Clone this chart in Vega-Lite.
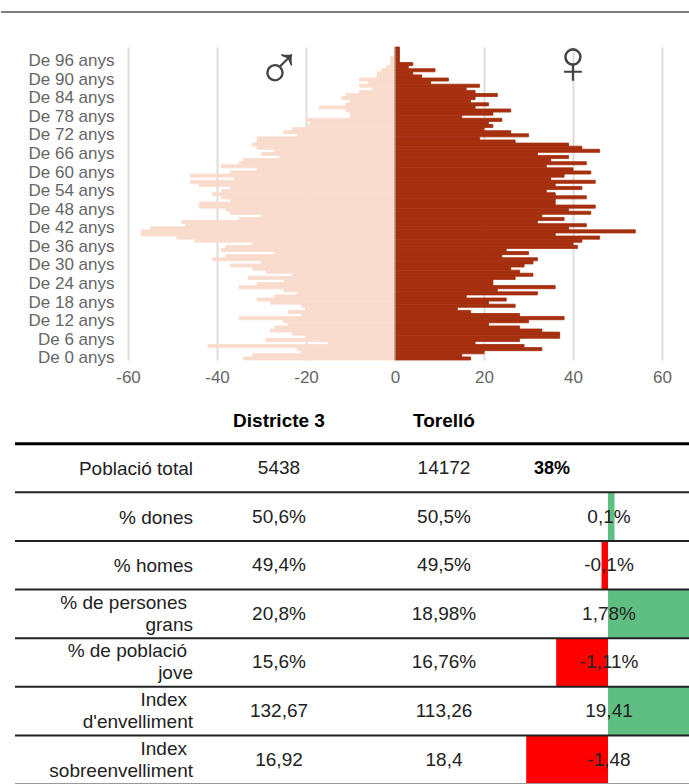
{"$schema":"https://vega.github.io/schema/vega-lite/v6.json","padding":0,"background":"white","bounds":"flush","spacing":35,"config":{"view":{"stroke":null},"font":"Liberation Sans"},"datasets":{"piramide":[{"edat":100,"homes":0,"dones":1},{"edat":99,"homes":0,"dones":1},{"edat":98,"homes":0,"dones":1},{"edat":97,"homes":-1,"dones":1},{"edat":96,"homes":-1,"dones":1},{"edat":95,"homes":-1,"dones":4},{"edat":94,"homes":-2,"dones":3},{"edat":93,"homes":-3,"dones":9},{"edat":92,"homes":-4,"dones":4},{"edat":91,"homes":-4,"dones":6},{"edat":90,"homes":-8,"dones":12},{"edat":89,"homes":-6,"dones":8},{"edat":88,"homes":-8,"dones":19},{"edat":87,"homes":-5,"dones":16},{"edat":86,"homes":-8,"dones":18},{"edat":85,"homes":-11,"dones":23},{"edat":84,"homes":-12,"dones":18},{"edat":83,"homes":-10,"dones":17},{"edat":82,"homes":-11,"dones":21},{"edat":81,"homes":-17,"dones":18},{"edat":80,"homes":-11,"dones":26},{"edat":79,"homes":-10,"dones":22},{"edat":78,"homes":-10,"dones":15},{"edat":77,"homes":-20,"dones":24},{"edat":76,"homes":-19,"dones":21},{"edat":75,"homes":-20,"dones":22},{"edat":74,"homes":-23,"dones":20},{"edat":73,"homes":-25,"dones":26},{"edat":72,"homes":-22,"dones":30},{"edat":71,"homes":-31,"dones":19},{"edat":70,"homes":-31,"dones":27},{"edat":69,"homes":-32,"dones":39},{"edat":68,"homes":-31,"dones":42},{"edat":67,"homes":-27,"dones":46},{"edat":66,"homes":-30,"dones":32},{"edat":65,"homes":-26,"dones":39},{"edat":64,"homes":-34,"dones":35},{"edat":63,"homes":-35,"dones":43},{"edat":62,"homes":-39,"dones":34},{"edat":61,"homes":-31,"dones":40},{"edat":60,"homes":-37,"dones":44},{"edat":59,"homes":-46,"dones":38},{"edat":58,"homes":-36,"dones":35},{"edat":57,"homes":-46,"dones":45},{"edat":56,"homes":-44,"dones":36},{"edat":55,"homes":-37,"dones":42},{"edat":54,"homes":-39,"dones":34},{"edat":53,"homes":-41,"dones":36},{"edat":52,"homes":-39,"dones":43},{"edat":51,"homes":-37,"dones":36},{"edat":50,"homes":-44,"dones":36},{"edat":49,"homes":-44,"dones":45},{"edat":48,"homes":-38,"dones":39},{"edat":47,"homes":-37,"dones":44},{"edat":46,"homes":-30,"dones":33},{"edat":45,"homes":-35,"dones":38},{"edat":44,"homes":-48,"dones":32},{"edat":43,"homes":-47,"dones":43},{"edat":42,"homes":-55,"dones":39},{"edat":41,"homes":-57,"dones":54},{"edat":40,"homes":-57,"dones":36},{"edat":39,"homes":-49,"dones":46},{"edat":38,"homes":-45,"dones":42},{"edat":37,"homes":-32,"dones":40},{"edat":36,"homes":-38,"dones":41},{"edat":35,"homes":-39,"dones":25},{"edat":34,"homes":-27,"dones":30},{"edat":33,"homes":-38,"dones":24},{"edat":32,"homes":-41,"dones":32},{"edat":31,"homes":-30,"dones":31},{"edat":30,"homes":-37,"dones":29},{"edat":29,"homes":-32,"dones":26},{"edat":28,"homes":-29,"dones":28},{"edat":27,"homes":-23,"dones":31},{"edat":26,"homes":-33,"dones":27},{"edat":25,"homes":-25,"dones":22},{"edat":24,"homes":-31,"dones":22},{"edat":23,"homes":-35,"dones":36},{"edat":22,"homes":-25,"dones":23},{"edat":21,"homes":-22,"dones":32},{"edat":20,"homes":-27,"dones":16},{"edat":19,"homes":-31,"dones":25},{"edat":18,"homes":-28,"dones":21},{"edat":17,"homes":-21,"dones":27},{"edat":16,"homes":-20,"dones":14},{"edat":15,"homes":-24,"dones":17},{"edat":14,"homes":-21,"dones":28},{"edat":13,"homes":-35,"dones":38},{"edat":12,"homes":-25,"dones":30},{"edat":11,"homes":-24,"dones":21},{"edat":10,"homes":-27,"dones":28},{"edat":9,"homes":-28,"dones":33},{"edat":8,"homes":-23,"dones":37},{"edat":7,"homes":-20,"dones":37},{"edat":6,"homes":-29,"dones":28},{"edat":5,"homes":-15,"dones":18},{"edat":4,"homes":-42,"dones":29},{"edat":3,"homes":-22,"dones":33},{"edat":2,"homes":-21,"dones":20},{"edat":1,"homes":-32,"dones":15},{"edat":0,"homes":-34,"dones":17}],"simbols":[{"simbol":"♂","valor":-26,"edat":93},{"simbol":"♀","valor":40,"edat":95}],"taula":[{"fila":"capçalera","districte":"Districte 3","torello":"Torelló"},{"fila":"total","linia1":"Població total","districte":"5438","torello":"14172","resum":"38%"},{"fila":"dones","linia1":"% dones","districte":"50,6%","torello":"50,5%","dif":"0,1%","barra":8,"zero":0,"signe":"mes"},{"fila":"homes","linia1":"% homes","districte":"49,4%","torello":"49,5%","dif":"-0,1%","barra":-8,"zero":0,"signe":"menys"},{"fila":"grans","linia1":"% de persones","linia2":"grans","districte":"20,8%","torello":"18,98%","dif":"1,78%","barra":100,"zero":0,"signe":"mes"},{"fila":"jove","linia1":"% de població","linia2":"jove","districte":"15,6%","torello":"16,76%","dif":"-1,11%","barra":-64,"zero":0,"signe":"menys"},{"fila":"envelliment","linia1":"Index","linia2":"d'envelliment","districte":"132,67","torello":"113,26","dif":"19,41","barra":100,"zero":0,"signe":"mes"},{"fila":"sobre","linia1":"Index","linia2":"sobreenvelliment","districte":"16,92","torello":"18,4","dif":"-1,48","barra":-101,"zero":0,"signe":"menys"}]},"vconcat":[{"width":689,"height":12,"data":{"values":[{"a":0,"b":1,"c":0}]},"mark":{"type":"rule","color":"#000","strokeWidth":1.2},"encoding":{"x":{"field":"a","type":"quantitative","axis":null,"scale":{"domain":[0,1]}},"x2":{"field":"b"},"y":{"field":"c","type":"quantitative","axis":null,"scale":{"domain":[0,1]}}}},{"width":689,"height":313,"layer":[{"data":{"name":"piramide"},"mark":{"type":"bar","color":"#f9dccd","stroke":"#f9dccd","strokeWidth":0.8},"encoding":{"y":{"field":"edat","type":"ordinal","sort":"descending","scale":{"paddingInner":0,"paddingOuter":0},"title":null,"axis":{"values":[0,6,12,18,24,30,36,42,48,54,60,66,72,78,84,90,96],"labelExpr":"'De ' + datum.value + ' anys'","ticks":false,"domain":false,"labelPadding":-113,"labelColor":"#666","labelFontSize":17,"labelOverlap":false,"labelBound":false,"labelFlush":false,"grid":false}},"x":{"field":"homes","type":"quantitative","title":null,"scale":{"domain":[-88.54,66.29],"nice":false,"zero":false},"axis":{"values":[-60,-40,-20,0,20,40,60],"grid":true,"gridColor":"#ddd","gridWidth":2,"ticks":false,"domain":false,"labelColor":"#666","labelFontSize":17,"labelPadding":9,"labelFlush":false,"labelBound":false,"labelExpr":"'' + datum.value"}}}},{"data":{"name":"piramide"},"mark":{"type":"bar","color":"#a52f0e","stroke":"#a52f0e","strokeWidth":0.8},"encoding":{"y":{"field":"edat","type":"ordinal","sort":"descending"},"x":{"field":"dones","type":"quantitative"}}},{"data":{"values":[{"z":0}]},"mark":{"type":"rule","color":"#bbb","strokeWidth":1},"encoding":{"x":{"field":"z","type":"quantitative"}}},{"data":{"name":"simbols"},"mark":{"type":"text","font":"Liberation Sans","fontSize":62,"color":"#444","align":"center","baseline":"middle"},"encoding":{"x":{"field":"valor","type":"quantitative"},"y":{"field":"edat","type":"ordinal","sort":"descending"},"text":{"field":"simbol"}}}]},{"width":689,"height":389,"data":{"name":"taula"},"resolve":{"scale":{"x":"independent"}},"encoding":{"y":{"field":"fila","type":"nominal","sort":null,"axis":null,"scale":{"domain":["capçalera","total","dones","homes","grans","jove","envelliment","sobre"],"paddingInner":0,"paddingOuter":0}}},"layer":[{"transform":[{"filter":"isValid(datum.barra)"}],"mark":{"type":"bar","strokeWidth":0},"encoding":{"x":{"field":"barra","type":"quantitative","axis":null,"scale":{"domain":[-749.4,101.2],"nice":false,"zero":false}},"x2":{"field":"zero"},"color":{"field":"signe","type":"nominal","legend":null,"scale":{"domain":["mes","menys"],"range":["#5fbf82","#ff0000"]}}}},{"data":{"values":[{"fila":"capçalera","a":14,"b":689}]},"mark":{"type":"rule","color":"#000","strokeWidth":3},"encoding":{"x":{"field":"a","type":"quantitative","axis":null,"scale":{"domain":[0,689],"nice":false}},"x2":{"field":"b"},"y":{"field":"fila","type":"nominal","sort":null,"bandPosition":1}}},{"data":{"values":[{"fila":"total","a":14,"b":689},{"fila":"dones","a":14,"b":689},{"fila":"homes","a":14,"b":689},{"fila":"grans","a":14,"b":689},{"fila":"jove","a":14,"b":689},{"fila":"envelliment","a":14,"b":689}]},"mark":{"type":"rule","color":"#222","strokeWidth":2},"encoding":{"x":{"field":"a","type":"quantitative","axis":null,"scale":{"domain":[0,689],"nice":false}},"x2":{"field":"b"},"y":{"field":"fila","type":"nominal","sort":null,"bandPosition":1}}},{"data":{"values":[{"fila":"sobre","a":14,"b":689}]},"mark":{"type":"rule","color":"#999","strokeWidth":2},"encoding":{"x":{"field":"a","type":"quantitative","axis":null,"scale":{"domain":[0,689],"nice":false}},"x2":{"field":"b"},"y":{"field":"fila","type":"nominal","sort":null,"bandPosition":1}}},{"transform":[{"filter":"isValid(datum.barra)"}],"mark":{"type":"rule","color":"#000","strokeWidth":2,"strokeDash":[1,1]},"encoding":{"x":{"field":"zero","type":"quantitative","axis":null,"scale":{"domain":[-749.4,101.2],"nice":false,"zero":false}}}},{"transform":[{"filter":"isValid(datum.linia1) && !isValid(datum.linia2)"}],"mark":{"type":"text","fontSize":19,"color":"#222","align":"right","dx":79,"dy":1},"encoding":{"x":{"datum":"etiqueta","type":"nominal","axis":null,"scale":{"type":"point","domain":["etiqueta","districte","torello","dif"],"range":[113,608],"padding":0}},"text":{"field":"linia1"}}},{"transform":[{"filter":"isValid(datum.linia2)"}],"mark":{"type":"text","fontSize":19,"color":"#222","align":"right","dx":73,"dy":-11},"encoding":{"x":{"datum":"etiqueta","type":"nominal","axis":null,"scale":{"type":"point","domain":["etiqueta","districte","torello","dif"],"range":[113,608],"padding":0}},"text":{"field":"linia1"}}},{"transform":[{"filter":"isValid(datum.linia2)"}],"mark":{"type":"text","fontSize":19,"color":"#222","align":"right","dx":79,"dy":11},"encoding":{"x":{"datum":"etiqueta","type":"nominal","axis":null,"scale":{"type":"point","domain":["etiqueta","districte","torello","dif"],"range":[113,608],"padding":0}},"text":{"field":"linia2"}}},{"transform":[{"filter":"datum.fila !== 'capçalera'"}],"mark":{"type":"text","fontSize":19,"color":"#222","align":"center"},"encoding":{"x":{"datum":"districte","type":"nominal","axis":null,"scale":{"type":"point","domain":["etiqueta","districte","torello","dif"],"range":[113,608],"padding":0}},"text":{"field":"districte"}}},{"transform":[{"filter":"datum.fila !== 'capçalera'"}],"mark":{"type":"text","fontSize":19,"color":"#222","align":"center"},"encoding":{"x":{"datum":"torello","type":"nominal","axis":null,"scale":{"type":"point","domain":["etiqueta","districte","torello","dif"],"range":[113,608],"padding":0}},"text":{"field":"torello"}}},{"transform":[{"filter":"isValid(datum.dif)"}],"mark":{"type":"text","fontSize":19,"color":"#222","align":"center"},"encoding":{"x":{"datum":"dif","type":"nominal","axis":null,"scale":{"type":"point","domain":["etiqueta","districte","torello","dif"],"range":[113,608],"padding":0}},"text":{"field":"dif"}}},{"transform":[{"filter":"isValid(datum.resum)"}],"mark":{"type":"text","fontSize":18,"fontWeight":"bold","color":"#000","align":"center","dx":-57,"dy":1},"encoding":{"x":{"datum":"dif","type":"nominal","axis":null,"scale":{"type":"point","domain":["etiqueta","districte","torello","dif"],"range":[113,608],"padding":0}},"text":{"field":"resum"}}},{"transform":[{"filter":"datum.fila === 'capçalera'"}],"mark":{"type":"text","fontSize":19,"fontWeight":"bold","color":"#000","align":"center","dy":2},"encoding":{"x":{"datum":"districte","type":"nominal","axis":null,"scale":{"type":"point","domain":["etiqueta","districte","torello","dif"],"range":[113,608],"padding":0}},"text":{"field":"districte"}}},{"transform":[{"filter":"datum.fila === 'capçalera'"}],"mark":{"type":"text","fontSize":19,"fontWeight":"bold","color":"#000","align":"center","dy":2},"encoding":{"x":{"datum":"torello","type":"nominal","axis":null,"scale":{"type":"point","domain":["etiqueta","districte","torello","dif"],"range":[113,608],"padding":0}},"text":{"field":"torello"}}}]}]}
